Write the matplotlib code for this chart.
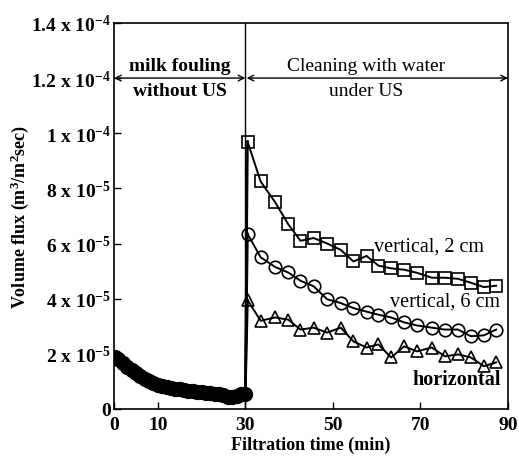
import matplotlib
matplotlib.use('Agg')
import matplotlib.pyplot as plt
from matplotlib.ticker import FixedLocator, FixedFormatter

plt.rcParams['font.family'] = ['Liberation Serif', 'DejaVu Serif']
plt.rcParams['mathtext.fontset'] = 'custom'
plt.rcParams['mathtext.rm'] = 'Liberation Serif'
plt.rcParams['mathtext.bf'] = 'Liberation Serif:bold'
plt.rcParams['mathtext.default'] = 'regular'

# fouling stage, no ultrasound (min, m3/m2 s)
foul_t = [0.3, 1, 2, 3, 4, 5, 6, 7, 8, 9, 10, 11, 12, 13, 14, 15, 16, 17, 18, 19,
          20, 21, 22, 23, 24, 25, 26, 27, 28, 29, 30]
foul_flux = [1.90e-5, 1.80e-5, 1.65e-5, 1.52e-5, 1.42e-5, 1.30e-5, 1.20e-5, 1.08e-5,
             1.00e-5, 0.94e-5, 0.88e-5, 0.84e-5, 0.80e-5, 0.77e-5, 0.74e-5, 0.71e-5,
             0.69e-5, 0.67e-5, 0.65e-5, 0.63e-5, 0.61e-5, 0.59e-5, 0.57e-5, 0.55e-5,
             0.53e-5, 0.50e-5, 0.45e-5, 0.42e-5, 0.46e-5, 0.54e-5, 0.55e-5]

# cleaning with water under US
clean_t = [30.5, 33.5, 36.8, 39.8, 42.6, 45.6, 48.7, 51.8, 54.7, 57.7, 60.4, 63.3,
           66.3, 69.2, 72.6, 75.6, 78.6, 81.5, 84.5, 87.3]
v2_flux = [9.7e-5, 8.25e-5, 7.5e-5, 6.7e-5, 6.1e-5, 6.2e-5, 6.0e-5, 5.77e-5, 5.35e-5,
           5.55e-5, 5.2e-5, 5.1e-5, 5.05e-5, 4.94e-5, 4.76e-5, 4.76e-5, 4.72e-5,
           4.58e-5, 4.42e-5, 4.47e-5]
v6_flux = [6.35e-5, 5.5e-5, 5.15e-5, 4.95e-5, 4.65e-5, 4.45e-5, 3.98e-5, 3.84e-5,
           3.66e-5, 3.53e-5, 3.42e-5, 3.32e-5, 3.14e-5, 3.03e-5, 2.95e-5, 2.88e-5,
           2.88e-5, 2.64e-5, 2.67e-5, 2.88e-5]
hor_flux = [3.95e-5, 3.2e-5, 3.32e-5, 3.24e-5, 2.88e-5, 2.95e-5, 2.77e-5, 2.95e-5,
            2.45e-5, 2.23e-5, 2.34e-5, 1.87e-5, 2.27e-5, 2.09e-5, 2.23e-5, 1.91e-5,
            1.98e-5, 1.87e-5, 1.55e-5, 1.69e-5]

xticks = [0, 10, 30, 50, 70, 90]
yticks = [0, 2e-5, 4e-5, 6e-5, 8e-5, 1e-4, 1.2e-4, 1.4e-4]
ytick_labels = ['0', '2 x 10$^{-5}$', '4 x 10$^{-5}$', '6 x 10$^{-5}$', '8 x 10$^{-5}$',
                '1 x 10$^{-4}$', '1.2 x 10$^{-4}$', '1.4 x 10$^{-4}$']

fig = plt.figure(figsize=(5.19, 4.6), dpi=100)
ax = fig.add_axes([0.2197, 0.1087, 0.759, 0.8393])

# jump from end of fouling to start of each cleaning curve
for flux in (v2_flux, v6_flux, hor_flux):
    ax.plot([foul_t[-1], clean_t[0]], [foul_flux[-1], flux[0]], color='black', lw=1.8)

ax.plot(foul_t, foul_flux, color='black', lw=2, marker='o', ms=10,
        markerfacecolor='black', markeredgecolor='black')
ax.plot(clean_t, v2_flux, color='black', lw=1.4, marker='s', ms=8,
        markerfacecolor='none', markeredgecolor='black', markeredgewidth=1.2)
ax.plot(clean_t, v6_flux, color='black', lw=1.4, marker='o', ms=9,
        markerfacecolor='none', markeredgecolor='black', markeredgewidth=1.2)
ax.plot(clean_t, hor_flux, color='black', lw=1.4, marker='^', ms=9,
        markerfacecolor='none', markeredgecolor='black', markeredgewidth=1.2)

ax.axvline(30, color='black', lw=1)

# stage arrows
ax.annotate('', xy=(0, 1.2e-4), xytext=(30, 1.2e-4),
            arrowprops=dict(arrowstyle='<->', color='black', lw=1, mutation_scale=10,
                            shrinkA=0, shrinkB=0))
ax.annotate('', xy=(30.3, 1.2e-4), xytext=(90, 1.2e-4),
            arrowprops=dict(arrowstyle='<->', color='black', lw=1, mutation_scale=10,
                            shrinkA=0, shrinkB=0))
ax.text(15, 1.215e-4, 'milk fouling', ha='center', va='bottom', fontsize=14, fontweight='bold')
ax.text(15, 1.185e-4, 'without US', ha='center', va='top', fontsize=14, fontweight='bold')
ax.text(57.5, 1.215e-4, 'Cleaning with water', ha='center', va='bottom', fontsize=14)
ax.text(57.5, 1.185e-4, 'under US', ha='center', va='top', fontsize=14)

ax.text(72, 5.9e-5, 'vertical, 2 cm', ha='center', va='center', fontsize=14.5)
ax.text(75.6, 3.9e-5, 'vertical, 6 cm', ha='center', va='center', fontsize=14.5)
ax.text(78.3, 1.08e-5, 'horizontal', ha='center', va='center', fontsize=14.5, fontweight='bold')

ax.set_xlim(0, 90)
ax.set_ylim(0, 1.4e-4)
ax.xaxis.set_major_locator(FixedLocator(xticks))
ax.xaxis.set_major_formatter(FixedFormatter([str(v) for v in xticks]))
ax.yaxis.set_major_locator(FixedLocator(yticks))
ax.yaxis.set_major_formatter(FixedFormatter(ytick_labels))
ax.tick_params(direction='in', length=5, width=1, top=False, right=False, labelsize=14)
ax.tick_params(axis='x', pad=5)
ax.tick_params(axis='y', pad=2)
for lab in ax.get_xticklabels() + ax.get_yticklabels():
    lab.set_fontweight('bold')
for sp in ax.spines.values():
    sp.set_linewidth(1.2)

ax.set_xlabel('Filtration time (min)', fontsize=13, fontweight='bold', labelpad=2)
ax.set_ylabel('Volume flux (m$^3$/m$^2$sec)', fontsize=13, fontweight='bold')
ax.yaxis.set_label_coords(-0.21, 0.5)

fig.savefig('out.png', dpi=100)
